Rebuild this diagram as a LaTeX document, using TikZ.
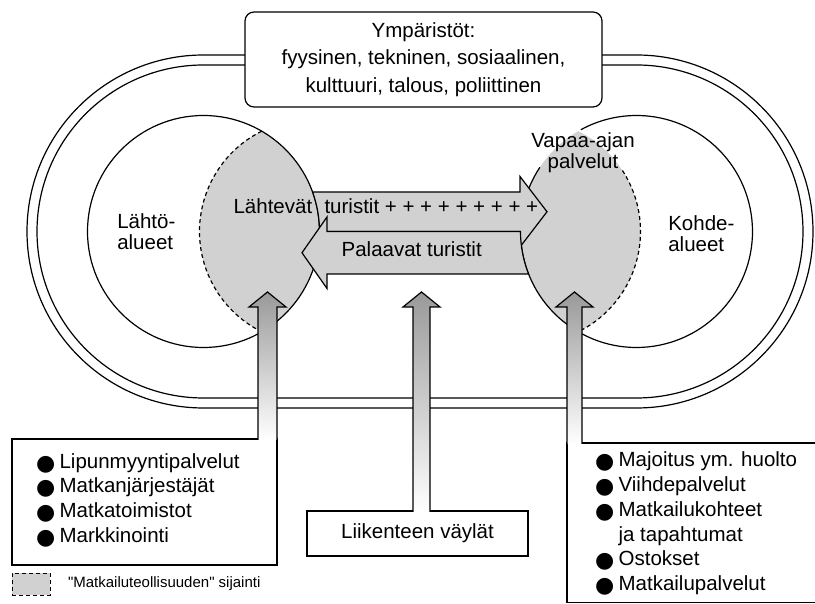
\documentclass[tikz,border=0pt]{standalone}
\usepackage{fontspec}
\setmainfont{Liberation Sans}
\newfontfamily\dotfont{DejaVu Sans}
\newfontfamily\keyfont{Liberation Sans}
\usepackage{tikz}
\usetikzlibrary{positioning, calc}

\newcommand{\bul}{\makebox[23.5pt][l]{\raisebox{-2pt}{\dotfont\fontsize{22}{22}\selectfont ●}}}

\begin{document}
\begin{tikzpicture}[x=1pt, y=1pt, line width=1.2pt,
  every node/.style={font=\fontsize{20.5}{21}\selectfont},
  zone/.style={fill=black!18},
  zoneline/.style={dash pattern=on 4pt off 3pt},
  box/.style={draw, fill=white, inner sep=0pt},
  item/.style={anchor=base west, inner sep=0pt, font=\fontsize{20.5}{24.6}\selectfont},
  flow/.style={draw, fill=black!18},
  feed/.style={draw, top color=black!40, bottom color=white}]
  \useasboundingbox (0,0) rectangle (815,604);
  \clip (0,0) rectangle (815,604);

  \coordinate (orig) at (203.5,372.5);
  \coordinate (dest) at (636.5,372.5);

  % environment ring
  \foreach \r in {176.5,166.5}
    \draw ($(orig)+(0,\r)$) arc[start angle=90, end angle=270, radius=\r]
      -- ($(dest)+(0,-\r)$) arc[start angle=-90, end angle=90, radius=\r] -- cycle;
  \node[box, rounded corners=9pt, minimum width=357pt, minimum height=95pt,
    align=center, font=\fontsize{20.5}{27.5}\selectfont] (env) at (423.5,544.5)
    {Ympäristöt:\\fyysinen, tekninen, sosiaalinen,\\kulttuuri, talous, poliittinen};

  % regions and industry zones
  \begin{scope}
    \clip (orig) circle[radius=116];
    \fill[zone] ($(orig)+(108,0)$) circle[radius=112];
  \end{scope}
  \begin{scope}
    \clip (dest) circle[radius=116];
    \fill[zone] ($(dest)+(-108,0)$) circle[radius=112];
  \end{scope}
  \draw (orig) circle[radius=116];
  \draw ($(dest)+(146.4:116)$) arc[start angle=146.4, end angle=478.7, radius=116];
  \draw[zoneline] ($(orig)+(108,0)+(116.4:112)$) arc[start angle=116.4, end angle=243.6, radius=112];
  \draw[zoneline] ($(dest)+(-108,0)+(33:112)$) arc[start angle=33, end angle=-63.6, radius=112];

  % tourist flows
  \draw[flow] ($(orig)+(0:116)$) -- (520,372.5) -- (520,357) -- (547,392.25)
    -- (520,427.5) -- (520,412) -- ($(orig)+(19.91:116)$)
    arc[start angle=19.91, end angle=0, radius=116] -- cycle;
  \draw[flow] ($(dest)+(180:116)$) -- (327,372.5) -- (327,387) -- (302,351.25)
    -- (327,315.5) -- (327,330) -- ($(dest)+(201.49:116)$)
    arc[start angle=201.49, end angle=180, radius=116] -- cycle;

  \node[align=left, inner sep=0pt, anchor=west] (origtxt) at (116.7,372.8) {Lähtö-\\alueet};
  \node[align=left, inner sep=0pt, anchor=west] (desttxt) at (667.7,370.4) {Kohde-\\alueet};
  \node[align=center, inner sep=0pt] (leisure) at (583,451) {Vapaa-ajan\\palvelut};
  \node[anchor=base west, inner sep=0pt] (outtxt) at (233,390.5)
    {Lähtevät\hspace{0.6em}turistit + + + + + + + + +};
  \node[anchor=base, inner sep=0pt] (backtxt) at (411.7,347.3) {Palaavat turistit};

  % service boxes
  \node[box, minimum width=265pt, minimum height=126pt] (sales) at (144.5,102) {};
  \node[box, minimum width=221pt, minimum height=45pt] (routes) at (417.5,70.5) {Liikenteen väylät};
  \node[box, minimum width=273pt, minimum height=159.5pt] (hosts) at (703.5,81.25) {};

  \foreach \cx/\by/\hw in {267.5/164/9.5, 421.5/92/8.5, 574.5/160/7.5}
    \draw[feed] (\cx-\hw,\by) -- (\cx-\hw,297) -- (\cx-18.5,297) -- (\cx,312)
      -- (\cx+18.5,297) -- (\cx+\hw,297) -- (\cx+\hw,\by);

  \node[item] (s1) at (35.5,135.7) {\bul Lipunmyyntipalvelut};
  \node[below=24.6pt of s1.base west, item] (s2) {\bul Matkanjärjestäjät};
  \node[below=24.6pt of s2.base west, item] (s3) {\bul Matkatoimistot};
  \node[below=24.6pt of s3.base west, item] (s4) {\bul Markkinointi};

  \node[item] (h1) at (594.5,137.3) {\bul Majoitus ym. huolto};
  \node[below=24.8pt of h1.base west, item] (h2) {\bul Viihdepalvelut};
  \node[below=24.8pt of h2.base west, item] (h3) {\bul Matkailukohteet};
  \node[below=24.8pt of h3.base west, item] (h4) {\hspace*{23.5pt}ja tapahtumat};
  \node[below=24.8pt of h4.base west, item] (h5) {\bul Ostokset};
  \node[below=24.8pt of h5.base west, item] (h6) {\bul Matkailupalvelut};

  % legend
  \node[draw, zone, zoneline, line width=0.9pt, minimum width=38pt,
    minimum height=22pt, inner sep=0pt] (key) at (31,20) {};
  \node[right=17pt of key, inner sep=0pt, font=\keyfont\fontsize{15}{18}\selectfont] (keytxt)
    {"Matkailuteollisuuden" sijainti};
\end{tikzpicture}
\end{document}
